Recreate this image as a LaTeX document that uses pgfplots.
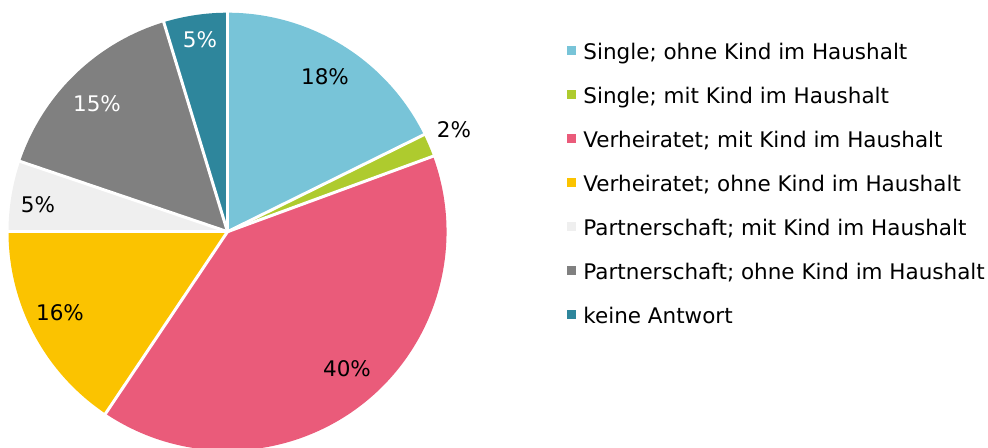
\documentclass[border=0pt]{standalone}
\usepackage{fontspec}
\setmainfont{DejaVu Sans}
\usepackage{pgfplots}
\usepackage{pgfplotstable}
\pgfplotsset{compat=1.18}
\definecolor{c0}{HTML}{78C4D8}
\definecolor{c1}{HTML}{AECB2E}
\definecolor{c2}{HTML}{EA5B7A}
\definecolor{c3}{HTML}{FBC300}
\definecolor{c4}{HTML}{EFEFEF}
\definecolor{c5}{HTML}{808080}
\definecolor{c6}{HTML}{2E869C}
% share (%), label, label position (px from left, px from bottom), label colour
\pgfplotstableread{
val lab lx ly tc
17.7 18 325 371 black
1.7 2 454 318 black
40.0 40 347 79 black
15.6 16 60 135 black
5.2 5 38 243 black
15.1 15 97 344 white
4.7 5 200 408 white
}\piedata
\begin{document}
\begin{tikzpicture}[font=\fontsize{21.5bp}{25bp}\selectfont]
\begin{axis}[at={(0,0)}, anchor=south west, x=1bp, y=1bp,
  xmin=0, xmax=988, ymin=0, ymax=448, hide axis, clip=true,
  legend style={at={(rel axis cs:0.5739,0.904)}, anchor=north west,
    draw=none, fill=none, row sep=23bp, inner sep=0pt, outer sep=0pt,
    nodes={inner sep=0pt, text height=16bp, text depth=5bp},
    font=\fontsize{21.5bp}{25bp}\selectfont},
  legend cell align=left,
  legend image code/.code={\fill[#1] (0bp,-1bp) rectangle (8bp,7bp); \path (16bp,0bp);},
]
\def\cum{0}
\pgfplotsforeachungrouped \i in {0,...,6}{%
  \pgfplotstablegetelem{\i}{val}\of\piedata
  \let\myval\pgfplotsretval
  \pgfmathsetmacro\angA{90-3.6*\cum}%
  \pgfmathsetmacro\angB{90-3.6*(\cum+\myval)}%
  \pgfmathsetmacro\cum{\cum+\myval}%
  \edef\tmp{\noexpand\fill[c\i] (axis cs:227.5,216.3) -- ++(\angA:219bp) arc[start angle=\angA, end angle=\angB, radius=219bp] -- cycle;}%
  \tmp
}
\def\cum{0}
\pgfplotsforeachungrouped \i in {0,...,6}{%
  \pgfplotstablegetelem{\i}{val}\of\piedata
  \let\myval\pgfplotsretval
  \pgfmathsetmacro\angA{90-3.6*\cum}%
  \pgfmathsetmacro\cum{\cum+\myval}%
  \edef\tmp{\noexpand\draw[white, line width=3bp] (axis cs:227.5,216.3) -- ++(\angA:225bp);}%
  \tmp
}
\pgfplotsforeachungrouped \i in {0,...,6}{%
  \pgfplotstablegetelem{\i}{lab}\of\piedata \let\mylab\pgfplotsretval
  \pgfplotstablegetelem{\i}{lx}\of\piedata \let\mylx\pgfplotsretval
  \pgfplotstablegetelem{\i}{ly}\of\piedata \let\myly\pgfplotsretval
  \pgfplotstablegetelem{\i}{tc}\of\piedata \let\mytc\pgfplotsretval
  \edef\tmp{\noexpand\node[text=\mytc, inner sep=0pt] at (axis cs:\mylx,\myly) {\mylab\noexpand\%};}%
  \tmp
}
\addlegendimage{c0}
\addlegendimage{c1}
\addlegendimage{c2}
\addlegendimage{c3}
\addlegendimage{c4}
\addlegendimage{c5}
\addlegendimage{c6}
\legend{Single; ohne Kind im Haushalt, Single; mit Kind im Haushalt,
  Verheiratet; mit Kind im Haushalt, Verheiratet; ohne Kind im Haushalt,
  Partnerschaft; mit Kind im Haushalt, Partnerschaft; ohne Kind im Haushalt,
  keine Antwort}
\end{axis}
\pgfresetboundingbox
\path (0,0) rectangle (988bp,448bp);
\end{tikzpicture}
\end{document}
